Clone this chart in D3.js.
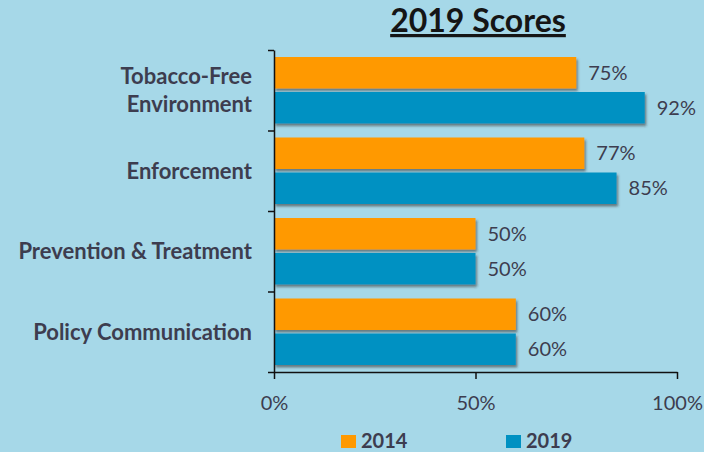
<!doctype html>
<html lang="en">
<head>
<meta charset="utf-8">
<title>2019 Scores</title>
<style>
    html, body {
        margin: 0;
        padding: 0;
        background-color: #a6d8e8;
    }
    text {
        font-family: Lato, "Open Sans", sans-serif;
        fill: #3d3d4f;
    }
    .axis path, .axis line {
        stroke: #111;
        stroke-width: 1.5;
    }
</style>
</head>
<body>
<div id="chart"></div>
<script src="https://d3js.org/d3.v7.min.js"></script>
<script>
    const categories = [
        ["Tobacco-Free", "Environment"],
        ["Enforcement"],
        ["Prevention & Treatment"],
        ["Policy Communication"]
    ];
    const series = ["2014", "2019"];
    const values2014 = [75, 77, 50, 60];
    const values2019 = [92, 85, 50, 60];
    const xTicks = [0, 50, 100];
    const colors = ["#ff9900", "#0091c2"];

    const width = 704, height = 452;
    const margin = {left: 274, right: 27, top: 50, bottom: 80};

    const svg = d3.select("#chart").append("svg")
        .attr("width", width)
        .attr("height", height);

    // little drop shadow under the bars
    const filter = svg.append("defs").append("filter")
        .attr("id", "shadow")
        .attr("x", "-5%").attr("y", "-20%")
        .attr("width", "115%").attr("height", "150%");
    filter.append("feDropShadow")
        .attr("dx", 1.5)
        .attr("dy", 2.5)
        .attr("stdDeviation", 1.2)
        .attr("flood-color", "#333")
        .attr("flood-opacity", 0.55);

    const keys = categories.map((c, i) => i);

    const x = d3.scaleLinear()
        .domain([0, 100])
        .range([margin.left, width - margin.right]);

    const y0 = d3.scaleBand()
        .domain(keys)
        .range([margin.top, height - margin.bottom]);

    const y1 = d3.scaleBand()
        .domain(series)
        .range([7, y0.bandwidth() - 7])
        .paddingInner(0.1);

    const rows = keys.map(i => ({
        i: i,
        vals: [
            {s: series[0], v: values2014[i], c: colors[0]},
            {s: series[1], v: values2019[i], c: colors[1]}
        ]
    }));

    // bars
    const groups = svg.selectAll(".grp")
        .data(rows)
        .enter().append("g")
        .attr("class", "grp")
        .attr("transform", d => "translate(0," + y0(d.i) + ")");

    groups.selectAll("rect")
        .data(d => d.vals)
        .enter().append("rect")
        .attr("x", x(0))
        .attr("y", d => y1(d.s))
        .attr("width", d => x(d.v) - x(0))
        .attr("height", y1.bandwidth())
        .attr("fill", d => d.c)
        .attr("filter", "url(#shadow)");

    groups.selectAll(".val")
        .data(d => d.vals)
        .enter().append("text")
        .attr("class", "val")
        .attr("x", d => x(d.v) + 12)
        .attr("y", d => y1(d.s) + y1.bandwidth() / 2)
        .attr("dy", "0.36em")
        .style("font-size", "20px")
        .text(d => d.v + "%");

    // y axis with ticks between categories
    const yEdge = d3.scaleLinear()
        .domain([0, keys.length])
        .range([margin.top, height - margin.bottom]);

    svg.append("g")
        .attr("class", "axis")
        .attr("transform", "translate(" + x(0) + ",0)")
        .call(d3.axisLeft(yEdge).ticks(keys.length).tickSize(6).tickSizeOuter(0).tickFormat(""));

    // x axis
    const xAxis = svg.append("g")
        .attr("class", "axis")
        .attr("transform", "translate(0," + (height - margin.bottom) + ")")
        .call(d3.axisBottom(x).tickValues(xTicks).tickSize(7).tickSizeOuter(0)
            .tickPadding(17).tickFormat(d => d + "%"));
    xAxis.selectAll("text")
        .style("font-size", "20px")
        .attr("fill", "#3d3d4f");
    xAxis.select(".domain").attr("stroke", "#111");

    // category labels
    const catLabels = svg.selectAll(".cat")
        .data(rows)
        .enter().append("text")
        .attr("class", "cat")
        .attr("text-anchor", "end")
        .style("font-size", "22px")
        .style("font-weight", "bold");

    catLabels.selectAll("tspan")
        .data(d => categories[d.i].map((t, j) => ({t: t, j: j, n: categories[d.i].length, i: d.i})))
        .enter().append("tspan")
        .attr("x", 252)
        .attr("y", d => y0(d.i) + y0.bandwidth() / 2 + (d.j - (d.n - 1) / 2) * 28)
        .attr("dy", "0.36em")
        .text(d => d.t);

    // title
    svg.append("text")
        .attr("x", 478)
        .attr("y", 32)
        .attr("text-anchor", "middle")
        .style("font-size", "32px")
        .style("font-weight", "bold")
        .style("fill", "#151515")
        .style("text-decoration", "underline")
        .text("2019 Scores");

    // legend
    const legendX = [341, 506];
    const legend = svg.selectAll(".leg")
        .data(series)
        .enter().append("g")
        .attr("class", "leg")
        .attr("transform", (d, i) => "translate(" + legendX[i] + ",435)");

    legend.append("rect")
        .attr("width", 15)
        .attr("height", 13)
        .attr("fill", (d, i) => colors[i]);

    legend.append("text")
        .attr("x", 20)
        .attr("y", 13)
        .style("font-size", "20px")
        .style("font-weight", "bold")
        .text(d => d);
</script>
</body>
</html>
